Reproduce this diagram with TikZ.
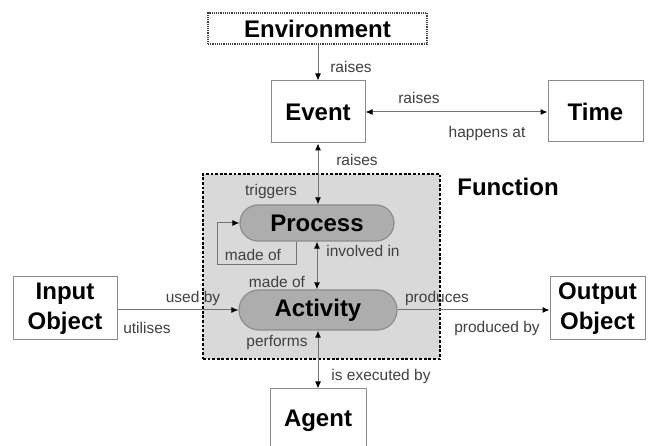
\documentclass[tikz,border=0pt]{standalone}
\usepackage{fontspec}
\setmainfont{Liberation Sans}
\usetikzlibrary{arrows.meta}
\tikzset{
  box/.style={draw=black!45, line width=1pt, fill=white, align=center, inner sep=0pt,
    font=\bfseries\fontsize{24}{30}\selectfont},
  envbox/.style={box, draw=black!75, line width=1.2pt, densely dotted},
  funcbox/.style={draw=black, fill=black!15, line width=2.8pt, dash pattern=on 2.8pt off 1.8pt, inner sep=0pt},
  actbox/.style={draw=black!45, line width=1.2pt, fill=black!32, rounded corners=18pt, inner sep=0pt,
    font=\bfseries\fontsize{24}{30}\selectfont},
  lbl/.style={font=\fontsize{15.5}{17}\selectfont, text=black!75, inner sep=0pt},
  conn/.style={draw=black!55, line width=1pt},
  tipend/.style={-{Latex[length=7pt,width=6pt,color=black]}},
  tipboth/.style={{Latex[length=7pt,width=6pt,color=black]}-{Latex[length=7pt,width=6pt,color=black]}}
}
\begin{document}
\begin{tikzpicture}[x=1pt,y=-1pt]
\useasboundingbox (0,0) rectangle (649,446);
% Function container
\node[funcbox, minimum width=237pt, minimum height=185pt] (func) at (321.5,266.5) {};
\node[font=\bfseries\fontsize{24}{30}\selectfont, inner sep=0pt] (funclbl) at (508,187) {Function};
% Nodes
\node[envbox, minimum width=219pt, minimum height=31pt] (env) at (317.5,28.5) {Environment};
\node[box, minimum width=94pt, minimum height=62pt] (event) at (318,112) {Event};
\node[box, minimum width=95pt, minimum height=61pt] (time) at (595.5,111.5) {Time};
\node[actbox, minimum width=154pt, minimum height=36pt] (proc) at (317,223) {Process};
\node[actbox, minimum width=158pt, minimum height=40pt, rounded corners=20pt] (act) at (318,310) {Activity};
\node[box, minimum width=104pt, minimum height=63pt] (inp) at (65,308.5) {Input\\Object};
\node[box, minimum width=95pt, minimum height=63pt] (out) at (597.5,308.5) {Output\\Object};
\node[box, minimum width=96pt, minimum height=64pt] (agent) at (318,421) {Agent};
% Connectors
\draw[conn,tipend] (event.north |- env.south) -- (event.north);
\draw[conn,tipboth] (event.east) -- (time.west |- event.east);
\draw[conn,tipboth] (event.south) -- (event.south |- proc.north);
\draw[conn,tipend] ([xshift=-21pt]proc.south) |- (217,265) |- (proc.west);
\draw[conn,tipboth] (proc.south) -- (proc.south |- act.north);
\draw[conn,tipend] (inp.east |- act.west) -- (act.west);
\draw[conn,tipend] (act.east) -- (out.west |- act.east);
\draw[conn,tipboth] (act.south) -- (act.south |- agent.north);
% Labels
\node[lbl] (l1) at (351,67) {raises};
\node[lbl] (l2) at (419,98) {raises};
\node[lbl] (l3) at (487,133) {happens at};
\node[lbl] (l4) at (357,160) {raises};
\node[lbl] (l5) at (271,191) {triggers};
\node[lbl] (l6) at (253,255) {made of};
\node[lbl] (l7) at (363,251) {involved in};
\node[lbl] (l8) at (277,282) {made of};
\node[lbl] (l9) at (193,298) {used by};
\node[lbl] (l10) at (147,328) {utilises};
\node[lbl] (l11) at (437,298) {produces};
\node[lbl] (l12) at (497,328) {produced by};
\node[lbl] (l13) at (277,343) {performs};
\node[lbl] (l14) at (381,376) {is executed by};
\end{tikzpicture}
\end{document}
